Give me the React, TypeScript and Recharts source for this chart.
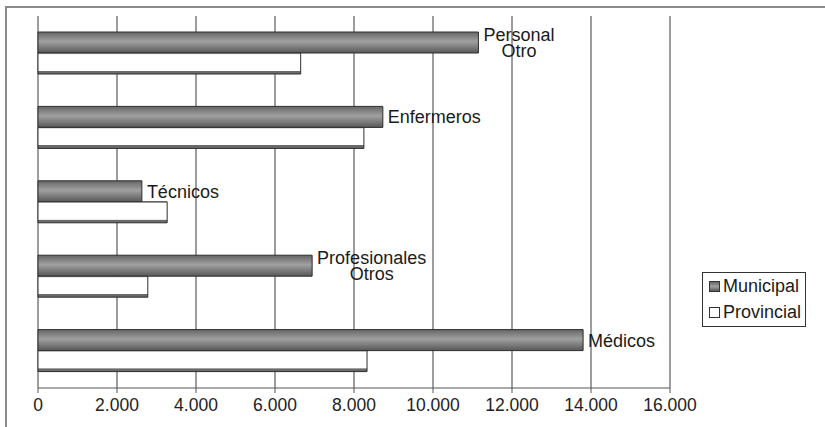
import React from 'react';
import { BarChart, Bar, XAxis, YAxis, CartesianGrid, LabelList } from 'recharts';

const categories = ['Personal\nOtro', 'Enfermeros', 'Técnicos', 'Profesionales\nOtros', 'Médicos'];
const municipal = [11150, 8730, 2630, 6940, 13800];
const provincial = [6650, 8250, 3270, 2780, 8330];
const xTicks = [0, 2000, 4000, 6000, 8000, 10000, 12000, 14000, 16000];

const data = categories.map((name, i) => ({
  name,
  Municipal: municipal[i],
  Provincial: provincial[i],
}));

const FONT = "'Liberation Sans', Arial, sans-serif";

// thousands with a dot, as in the original
const fmt = (v: number) => String(v).replace(/\B(?=(\d{3})+(?!\d))/g, '.');

let measureCtx: CanvasRenderingContext2D | null = null;
const textWidth = (s: string) => {
  if (!measureCtx) measureCtx = document.createElement('canvas').getContext('2d');
  if (!measureCtx) return s.length * 9;
  measureCtx.font = `18px ${FONT}`;
  return measureCtx.measureText(s).width;
};

const renderLabel = (props: any) => {
  const { x, y, width, height, value } = props;
  const lines = String(value).split('\n');
  const left = Number(x) + Number(width) + 5;
  const cy = Number(y) + Number(height) / 2;
  const cx = left + textWidth(lines[0]) / 2;
  const step = 16;
  const start = cy - ((lines.length - 1) * step) / 2;
  return (
    <text fontFamily={FONT} fontSize={18} fill="#1a1a1a" textAnchor="middle">
      {lines.map((l, i) => (
        <tspan key={i} x={cx} y={start + i * step} dy="0.36em">
          {l}
        </tspan>
      ))}
    </text>
  );
};

const App: React.FC = () => {
  return (
    <div style={{ position: 'absolute', left: 0, top: 0, width: 825, height: 427, overflow: 'hidden', background: '#fff' }}>
      {/* outer frame, right/bottom edges fall outside the picture */}
      <div style={{ position: 'absolute', left: 5, top: 6, width: 900, height: 500, border: '2px solid #8a8a8a' }} />
      <div style={{ position: 'absolute', left: 0, top: 0 }}>
        <BarChart
          width={825}
          height={427}
          data={data}
          layout="vertical"
          margin={{ top: 16, right: 155, bottom: 9, left: 38 }}
          barSize={21}
          barGap={0}
        >
          <defs>
            <linearGradient id="gMun" x1="0" y1="0" x2="0" y2="1">
              <stop offset="0%" stopColor="#666" />
              <stop offset="45%" stopColor="#a0a0a0" />
              <stop offset="100%" stopColor="#585858" />
            </linearGradient>
            <linearGradient id="gProv" x1="0" y1="0" x2="0" y2="1">
              <stop offset="0%" stopColor="#9a9a9a" />
              <stop offset="8%" stopColor="#ffffff" />
              <stop offset="84%" stopColor="#ffffff" />
              <stop offset="86%" stopColor="#6a6a6a" />
              <stop offset="100%" stopColor="#6a6a6a" />
            </linearGradient>
          </defs>
          <CartesianGrid horizontal={false} stroke="#3a3a3a" strokeWidth={1} />
          <XAxis
            type="number"
            domain={[0, 16000]}
            ticks={xTicks}
            tickFormatter={fmt}
            height={30}
            tickSize={5}
            tickMargin={6}
            axisLine={{ stroke: '#555' }}
            tickLine={{ stroke: '#555' }}
            tick={{ fontFamily: FONT, fontSize: 17.5, fill: '#222' }}
          />
          <XAxis
            xAxisId="top"
            type="number"
            domain={[0, 16000]}
            orientation="top"
            height={0}
            tick={false}
            tickLine={false}
            axisLine={{ stroke: '#999' }}
          />
          <YAxis
            type="category"
            dataKey="name"
            width={0}
            tick={false}
            tickLine={false}
            axisLine={{ stroke: '#666' }}
          />
          <Bar dataKey="Municipal" fill="url(#gMun)" stroke="#2e2e2e" strokeWidth={1} isAnimationActive={false}>
            <LabelList dataKey="name" content={renderLabel} />
          </Bar>
          <Bar dataKey="Provincial" fill="url(#gProv)" stroke="#2e2e2e" strokeWidth={1} isAnimationActive={false} />
        </BarChart>
      </div>
      {/* legend */}
      <div
        style={{
          position: 'absolute',
          left: 702,
          top: 272,
          width: 104,
          height: 55,
          border: '1px solid #333',
          fontFamily: FONT,
          fontSize: 18,
          color: '#1a1a1a',
          boxSizing: 'border-box',
        }}
      >
        {[
          { name: 'Municipal', bg: 'linear-gradient(#666, #a0a0a0, #585858)' },
          { name: 'Provincial', bg: '#fff' },
        ].map((e, i) => (
          <div key={e.name} style={{ position: 'absolute', left: 6, top: 2 + i * 26, height: 22, display: 'flex', alignItems: 'center' }}>
            <span style={{ display: 'inline-block', width: 9, height: 9, border: '1px solid #333', background: e.bg, marginRight: 3 }} />
            <span>{e.name}</span>
          </div>
        ))}
      </div>
    </div>
  );
};

export default App;
